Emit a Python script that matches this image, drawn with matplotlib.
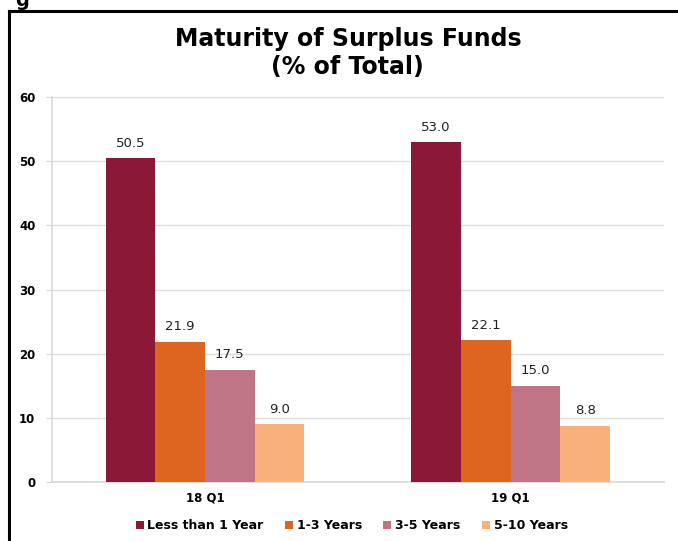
import matplotlib.pyplot as plt
from matplotlib.lines import Line2D
import numpy as np

plt.rcParams['font.family'] = ['DejaVu Sans']

periods = ["18 Q1", "19 Q1"]
series = ["Less than 1 Year", "1-3 Years", "3-5 Years", "5-10 Years"]
values = [
    [50.5, 53.0],
    [21.9, 22.1],
    [17.5, 15.0],
    [9.0, 8.8],
]
colors = ["#8B1836", "#DD6520", "#C07587", "#F9B07B"]
yticks = [0, 10, 20, 30, 40, 50, 60]

fig = plt.figure(figsize=(6.78, 5.41), dpi=100)
ax = fig.add_axes([0.0767, 0.109, 0.902, 0.7116])

x = np.arange(len(periods))
w = 0.1625
for i, (name, vals, c) in enumerate(zip(series, values, colors)):
    pos = x + (i - 1.5) * w
    ax.bar(pos, vals, width=w, color=c, label=name, zorder=3)
    for p, v in zip(pos, vals):
        ax.text(p, v + 1.3, f"{v:.1f}", ha="center", va="bottom", fontsize=9.5, color="#222222")

ax.set_xlim(-0.5, 1.5)
ax.set_ylim(0, 60)
ax.set_yticks(yticks)
ax.set_xticks(x)
ax.set_xticklabels(periods, fontweight="bold", fontsize=8.5)
ax.set_yticklabels([str(t) for t in yticks], fontweight="bold", fontsize=8.5)
ax.grid(axis="y", color="#DCDCE2", linewidth=1, zorder=0)
for s in ["top", "right"]:
    ax.spines[s].set_visible(False)
for s in ["left", "bottom"]:
    ax.spines[s].set_color("#D9D9D9")
    ax.spines[s].set_linewidth(1.2)
ax.tick_params(axis="y", length=4, color="#D9D9D9", pad=8)
ax.tick_params(axis="x", length=0, pad=7)

fig.text(0.513, 0.928, "Maturity of Surplus Funds", ha="center", va="center",
         fontsize=17, fontweight="bold")
fig.text(0.513, 0.876, "(% of Total)", ha="center", va="center",
         fontsize=17, fontweight="bold")

ax.legend(loc="upper center", bbox_to_anchor=(0.49, -0.068), ncol=4, frameon=False,
          prop={"weight": "bold", "size": 9}, handlelength=0.65, handleheight=0.65,
          handletextpad=0.3, columnspacing=1.7)

# outer frame and clipped caption above it
fig.add_artist(Line2D([9 / 678, 9 / 678], [0, 1 - 11 / 541], color="black", linewidth=2.2))
fig.add_artist(Line2D([9 / 678, 1], [1 - 11 / 541, 1 - 11 / 541], color="black", linewidth=2.2))
fig.text(0.022, 1.0, "g", fontsize=14, fontweight="bold", va="center", ha="left")

fig.savefig("out.png", dpi=100)
